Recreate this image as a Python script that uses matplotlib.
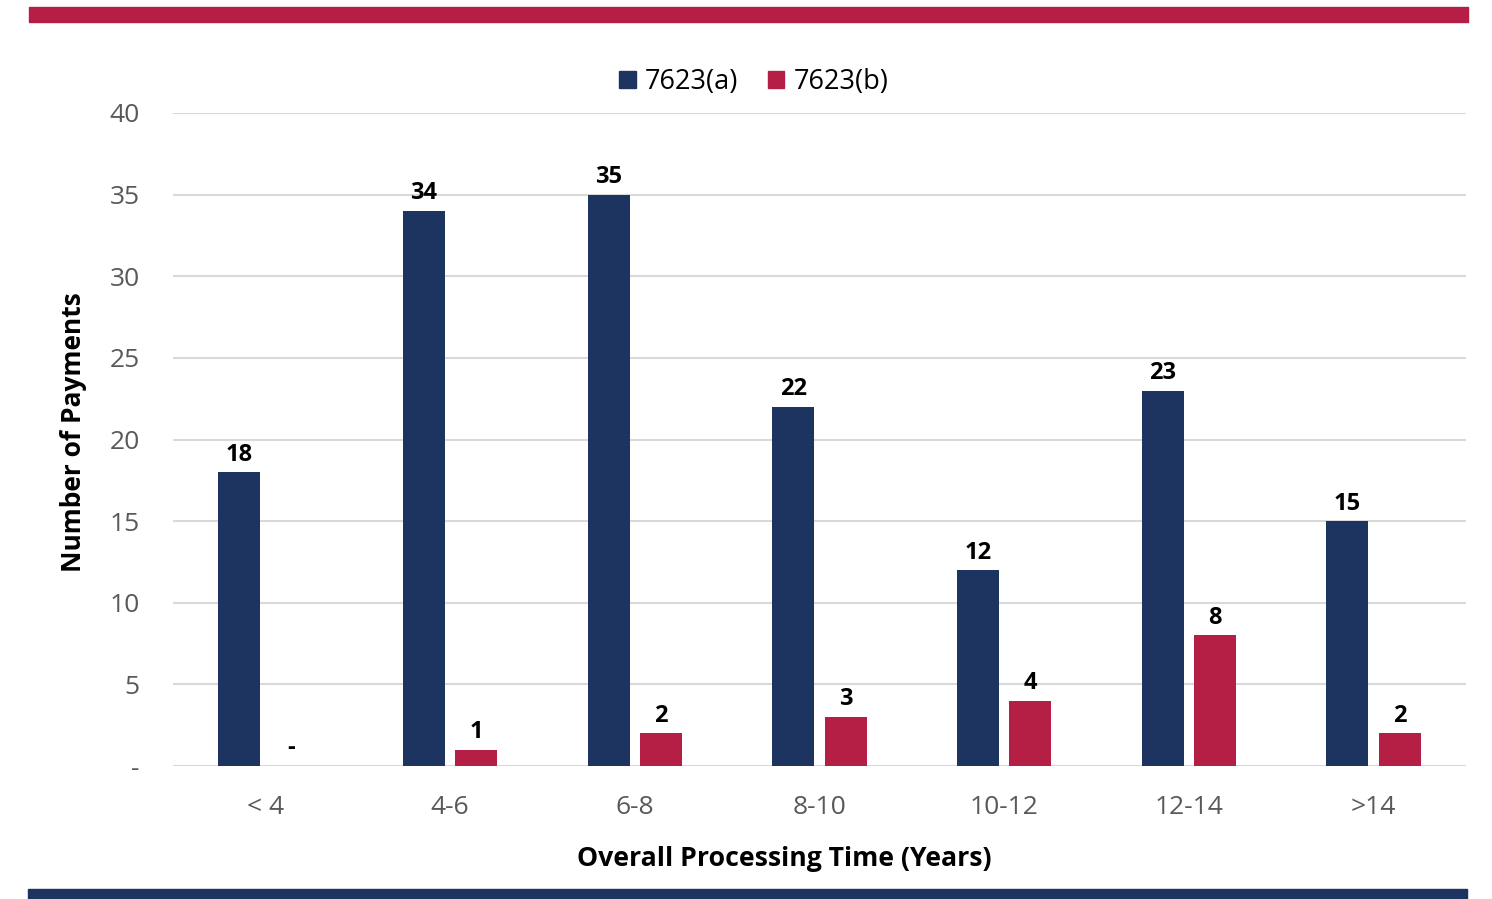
import numpy as np
import matplotlib
matplotlib.use("Agg")
import matplotlib.pyplot as plt
from matplotlib.patches import Rectangle, Patch

plt.rcParams['font.family'] = ['Open Sans', 'DejaVu Sans']

categories = ['< 4', '4-6', '6-8', '8-10', '10-12', '12-14', '>14']
series_a = [18, 34, 35, 22, 12, 23, 15]
series_b = [0, 1, 2, 3, 4, 8, 2]
labels = ['7623(a)', '7623(b)']
yticks = [0, 5, 10, 15, 20, 25, 30, 35, 40]
ytick_labels = ['-', '5', '10', '15', '20', '25', '30', '35', '40']

navy = '#1c345f'
red = '#b51f45'
W, H = 1492, 899

fig = plt.figure(figsize=(W / 100, H / 100), dpi=100)
ax = fig.add_axes([173 / W, 1 - 766 / H, (1466 - 173) / W, (766 - 113) / H])

x = np.arange(len(categories))
bw = 0.227
off = 0.142
bars_a = ax.bar(x - off, series_a, bw, color=navy, zorder=3)
bars_b = ax.bar(x + off, series_b, bw, color=red, zorder=3)

for bars, vals in ((bars_a, series_a), (bars_b, series_b)):
    for b, v in zip(bars, vals):
        txt = str(v) if v else '-'
        ax.annotate(txt, (b.get_x() + b.get_width() / 2, v), xytext=(0, 4),
                    textcoords='offset points', ha='center', va='bottom',
                    fontsize=17, fontweight='bold', color='black')

ax.set_xlim(-0.5, len(categories) - 0.5)
ax.set_ylim(0, 40)
ax.set_yticks(yticks)
ax.set_yticklabels(ytick_labels)
ax.set_xticks(x)
ax.set_xticklabels(categories)
ax.tick_params(axis='both', length=0, labelsize=19, labelcolor='#595959')
ax.tick_params(axis='y', pad=24)
ax.tick_params(axis='x', pad=21)
ax.grid(axis='y', color='#d9d9d9', linewidth=1.5, zorder=0)
for s in ax.spines.values():
    s.set_visible(False)

ax.set_xlabel('Overall Processing Time (Years)', fontsize=19.2, fontweight='bold')
ax.xaxis.set_label_coords((784 - 173) / 1293, -(859 - 766) / 653, transform=ax.transAxes)
ax.xaxis.label.set_va('center')
ax.set_ylabel('Number of Payments', fontsize=19, fontweight='bold')
ax.yaxis.set_label_coords(-(173 - 74) / 1293, (766 - 432) / 653, transform=ax.transAxes)
ax.yaxis.label.set_va('center')

handles = [Patch(color=navy), Patch(color=red)]
fig.legend(handles, labels, loc='center', bbox_to_anchor=(754 / W, 1 - 82 / H),
           ncol=2, frameon=False, fontsize=19.5, handlelength=0.6, handleheight=0.6,
           handletextpad=0.35, columnspacing=1.1)

fig.patches.append(Rectangle((29 / W, 1 - 22 / H), (1468 - 29) / W, 15 / H,
                             transform=fig.transFigure, color=red, zorder=5))
fig.patches.append(Rectangle((28 / W, 0), (1467 - 28) / W, 10 / H,
                             transform=fig.transFigure, color=navy, zorder=5))

fig.savefig('out.png', dpi=100)
